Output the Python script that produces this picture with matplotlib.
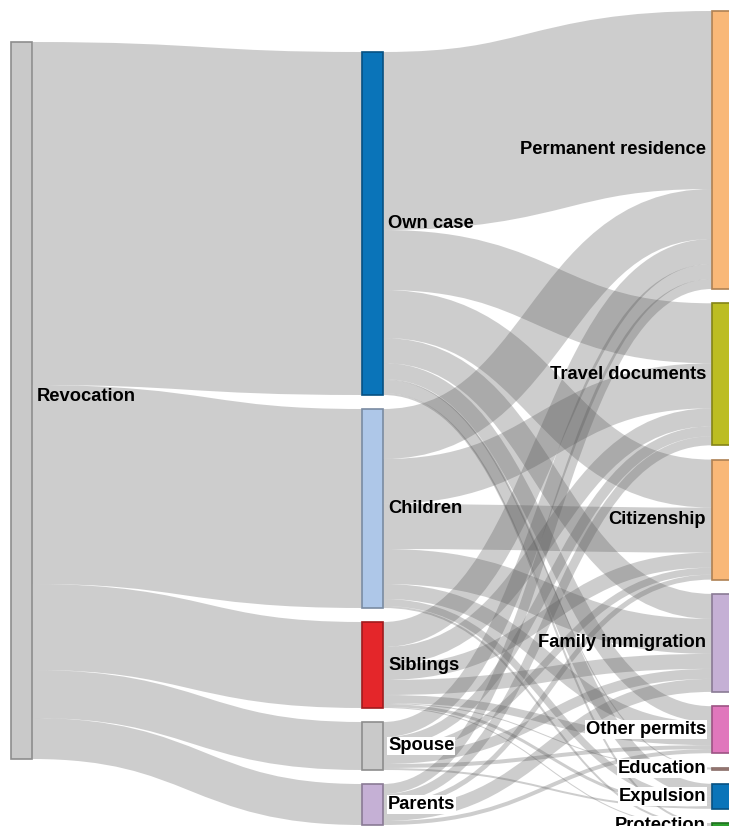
import numpy as np
import matplotlib.pyplot as plt
from matplotlib.path import Path
from matplotlib.patches import PathPatch, Rectangle

plt.rcParams['font.family'] = ['Liberation Sans', 'DejaVu Sans']

# nodes
source = 'Revocation'
middle = ['Own case', 'Children', 'Siblings', 'Spouse', 'Parents']
targets = ['Permanent residence', 'Travel documents', 'Citizenship', 'Family immigration',
           'Other permits', 'Education', 'Expulsion', 'Protection']

# flows middle -> targets (rows: middle, cols: targets)
own_case = [178, 60, 48, 25, 16, 1, 13, 2]
children = [50, 45, 45, 35, 15, 0, 7, 2]
siblings = [25, 18, 15, 15, 8, 1, 3, 1]
spouse = [15, 10, 7, 10, 4, 0, 2, 0]
parents = [10, 9, 5, 13, 4, 0, 0, 0]

mid_colors = ['#0a74b9', '#aec7e8', '#e4262a', '#c9c9c9', '#c5b0d5']
tgt_colors = ['#f9b878', '#bcbd22', '#f9b878', '#c5b0d5', '#e077bc', '#c49c94', '#0a74b9', '#2ca02c']
src_color = '#c9c9c9'

flows = np.array([own_case, children, siblings, spouse, parents], dtype=float)
mid_tot = flows.sum(axis=1)
tgt_tot = flows.sum(axis=0)
total = flows.sum()

W, H, dpi = 729, 826, 100
fig = plt.figure(figsize=(W / dpi, H / dpi), dpi=dpi)
ax = fig.add_axes([0, 0, 1, 1])
ax.set_xlim(0, W)
ax.set_ylim(H, 0)
ax.axis('off')

nw = 21
xs = [11, 362, 712]
pad_mid, pad_tgt = 14, 14.3


def stack(vals, top, pad):
    ys = []
    y = top
    for v in vals:
        ys.append(y)
        y += v + pad
    return ys


src_y = 42
mid_y = stack(mid_tot, 52, pad_mid)
tgt_y = stack(tgt_tot, 11, pad_tgt)


def darker(c, f=0.7):
    import matplotlib.colors as mc
    r, g, b = mc.to_rgb(c)
    return (r * f, g * f, b * f)


def link(x0, y0, x1, y1, w):
    xm = (x0 + x1) / 2
    p = Path([(x0, y0), (xm, y0), (xm, y1), (x1, y1)],
             [Path.MOVETO, Path.CURVE4, Path.CURVE4, Path.CURVE4])
    ax.add_patch(PathPatch(p, fill=False, edgecolor='#555555', alpha=0.29,
                           lw=w * 72 / dpi, capstyle='butt', zorder=1))


# revocation -> middle
sy = src_y
for i, v in enumerate(mid_tot):
    link(xs[0] + nw, sy + v / 2, xs[1], mid_y[i] + v / 2, v)
    sy += v

# middle -> targets
tgt_off = list(tgt_y)
for i in range(len(middle)):
    y = mid_y[i]
    for j in range(len(targets)):
        v = flows[i, j]
        if v <= 0:
            continue
        link(xs[1] + nw, y + v / 2, xs[2], tgt_off[j] + v / 2, v)
        y += v
        tgt_off[j] += v

# nodes
ax.add_patch(Rectangle((xs[0], src_y), nw, total, facecolor=src_color,
                       edgecolor=darker(src_color), lw=1.2, zorder=3))
for i in range(len(middle)):
    ax.add_patch(Rectangle((xs[1], mid_y[i]), nw, mid_tot[i], facecolor=mid_colors[i],
                           edgecolor=darker(mid_colors[i]), lw=1.2, zorder=3))
for j in range(len(targets)):
    ax.add_patch(Rectangle((xs[2], tgt_y[j]), nw, tgt_tot[j], facecolor=tgt_colors[j],
                           edgecolor=darker(tgt_colors[j]), lw=1.2, zorder=3))

fs = 13.2
boxed = {'Spouse', 'Parents', 'Other permits', 'Education', 'Expulsion', 'Protection'}
bb = dict(facecolor='white', edgecolor='none', pad=0.5)

ax.text(xs[0] + nw + 5, src_y + total / 2 - 4, source, fontsize=fs, fontweight='bold',
        va='center', ha='left', zorder=4)
for i, name in enumerate(middle):
    ax.text(xs[1] + nw + 5, mid_y[i] + mid_tot[i] / 2, name, fontsize=fs,
            fontweight='bold', va='center', ha='left', zorder=4,
            bbox=bb if name in boxed else None)
for j, name in enumerate(targets):
    ax.text(xs[2] - 6, tgt_y[j] + tgt_tot[j] / 2, name, fontsize=fs,
            fontweight='bold', va='center', ha='right', zorder=4,
            bbox=bb if name in boxed else None)

fig.savefig('out.png', dpi=dpi, facecolor='white')
